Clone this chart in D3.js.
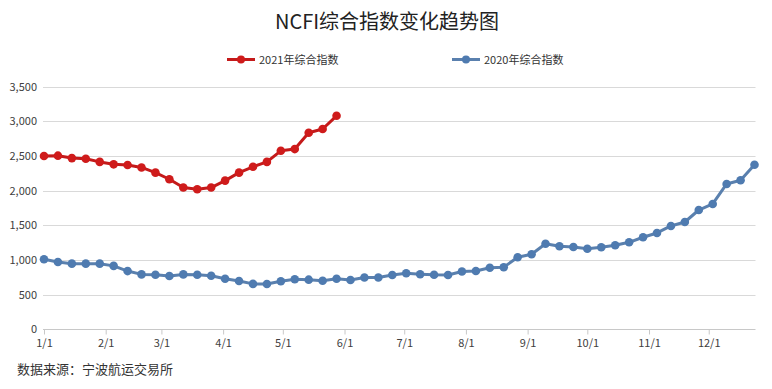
<!DOCTYPE html>
<html>
<head>
<meta charset="utf-8">
<script src="https://cdn.jsdelivr.net/npm/d3@7/dist/d3.min.js"></script>
<style>
  html, body { margin: 0; padding: 0; background: #fff; }
  svg { display: block; font-family: "Noto Sans CJK SC", "Noto Sans", sans-serif; }
</style>
</head>
<body>
<svg id="chart" width="772" height="389"></svg>
<script>
// ---- data ----
const title = "NCFI综合指数变化趋势图";
const sourceNote = "数据来源：宁波航运交易所";
const seriesNames = ["2021年综合指数", "2020年综合指数"];
const startDate = new Date(2021, 0, 1); // weekly categories starting 1/1
const values2021 = [2500, 2505, 2470, 2460, 2415, 2380, 2370, 2335, 2260, 2165, 2045, 2020,
  2045, 2145, 2260, 2345, 2415, 2575, 2600, 2835, 2890, 3080];
const values2020 = [1010, 970, 947, 947, 947, 915, 840, 792, 786, 768, 792, 788, 772, 730,
  697, 655, 654, 693, 722, 716, 701, 730, 711, 747, 747, 784, 808, 795, 786, 784, 834, 841,
  889, 895, 1039, 1082, 1235, 1198, 1188, 1163, 1183, 1212, 1255, 1328, 1390, 1491, 1548,
  1721, 1808, 2097, 2150, 2375];
const yTicks = [0, 500, 1000, 1500, 2000, 2500, 3000, 3500];

// ---- layout ----
const svg = d3.select("#chart");
const pLeft = 44, pRight = 754.5, pTop = 86.7, pBottom = 329.3;
const weekDate = i => d3.timeDay.offset(startDate, 7 * i);
const nWeeks = Math.max(values2021.length, values2020.length);

const x = d3.scaleTime().domain([startDate, weekDate(nWeeks - 1)]).range([pLeft, pRight]);
const y = d3.scaleLinear().domain([0, 3500]).range([pBottom, pTop]);

const colors = { red: "#cf1b1b", redLine: "#c41a1a", blue: "#4f7bb0", blueLine: "#5a80ae" };

// title
svg.append("text").attr("x", 387).attr("y", 29).attr("text-anchor", "middle")
  .attr("font-size", 20).attr("fill", "#222").text(title);

// gridlines
svg.append("g").selectAll("line").data(yTicks.filter(d => d > 0)).join("line")
  .attr("x1", pLeft - 1).attr("x2", pRight + 1)
  .attr("y1", d => Math.round(y(d)) + 0.5).attr("y2", d => Math.round(y(d)) + 0.5)
  .attr("stroke", "#d9d9d9").attr("stroke-width", 1);

// y labels
svg.append("g").selectAll("text").data(yTicks).join("text")
  .attr("x", 37).attr("y", d => y(d) + 4).attr("text-anchor", "end")
  .attr("font-size", 11).attr("fill", "#404040")
  .text(d => d3.format(",")(d));

// x axis
const xAxis = d3.axisBottom(x)
  .ticks(d3.timeMonth.every(1))
  .tickFormat(d3.timeFormat("%-m/%-d"))
  .tickSize(5).tickSizeOuter(0);
const gx = svg.append("g").attr("transform", `translate(0,${Math.round(pBottom) + 0.5})`).call(xAxis);
gx.select(".domain").attr("stroke", "#c8c8c8").attr("d", `M${pLeft - 1},0H${pRight + 1}`);
gx.selectAll(".tick line").attr("stroke", "#c8c8c8");
gx.selectAll(".tick text").attr("font-size", 11).attr("fill", "#404040")
  .attr("font-family", "\"Noto Sans CJK SC\", sans-serif").attr("dy", "0.9em");

// lines
const line = d3.line().x((d, i) => x(weekDate(i))).y(d => y(d));
function drawSeries(vals, lineColor, markColor) {
  const g = svg.append("g");
  g.append("path").datum(vals).attr("d", line).attr("fill", "none")
    .attr("stroke", lineColor).attr("stroke-width", 3).attr("stroke-linejoin", "round");
  g.selectAll("circle").data(vals).join("circle")
    .attr("cx", (d, i) => x(weekDate(i))).attr("cy", d => y(d)).attr("r", 4.3)
    .attr("fill", markColor);
}
drawSeries(values2020, colors.blueLine, colors.blue);
drawSeries(values2021, colors.redLine, colors.red);

// legend
const legendItems = [
  { name: seriesNames[0], x: 227, line: colors.redLine, mark: colors.red },
  { name: seriesNames[1], x: 452, line: colors.blueLine, mark: colors.blue }
];
const lg = svg.append("g").selectAll("g").data(legendItems).join("g")
  .attr("transform", d => `translate(${d.x},59.5)`);
lg.append("line").attr("x1", 0).attr("x2", 28).attr("stroke", d => d.line).attr("stroke-width", 3);
lg.append("circle").attr("cx", 14).attr("r", 4).attr("fill", d => d.mark);
lg.append("text").attr("x", 32).attr("y", 4).attr("font-size", 11).attr("fill", "#333")
  .text(d => d.name);

// source
svg.append("text").attr("x", 17).attr("y", 374).attr("font-size", 13).attr("fill", "#333")
  .text(sourceNote);
</script>
</body>
</html>
